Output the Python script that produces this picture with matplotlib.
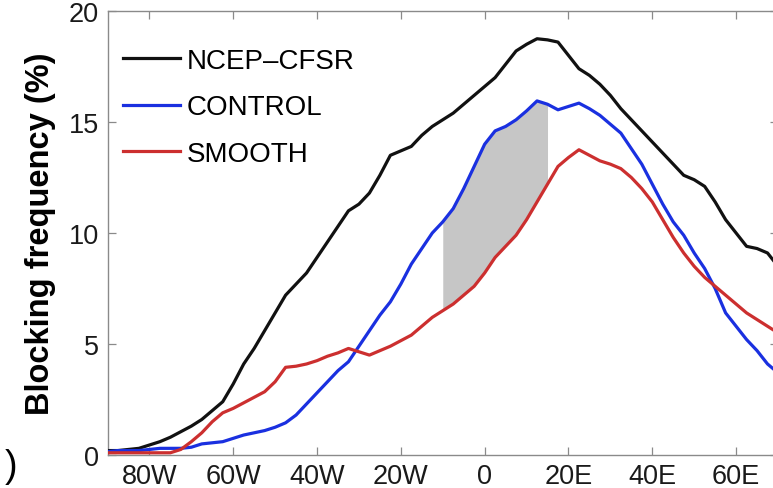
import numpy as np
import matplotlib
matplotlib.use("Agg")
import matplotlib.pyplot as plt

plt.rcParams['font.family'] = ['Liberation Sans', 'DejaVu Sans']

lon = np.arange(-90, 70.1, 2.5)

ncep = [0.2, 0.2, 0.25, 0.3, 0.45, 0.6, 0.8, 1.05, 1.3, 1.6, 2.0, 2.4, 3.2, 4.1,
        4.8, 5.6, 6.4, 7.2, 7.7, 8.2, 8.9, 9.6, 10.3, 11.0, 11.3, 11.8, 12.6, 13.5,
        13.7, 13.9, 14.4, 14.8, 15.1, 15.4, 15.8, 16.2, 16.6, 17.0, 17.6, 18.2, 18.5,
        18.75, 18.7, 18.6, 18.0, 17.4, 17.1, 16.7, 16.2, 15.6, 15.1, 14.6, 14.1, 13.6,
        13.1, 12.6, 12.4, 12.1, 11.4, 10.6, 10.0, 9.4, 9.3, 9.1, 8.5]

control = [0.15, 0.2, 0.2, 0.2, 0.25, 0.3, 0.3, 0.3, 0.35, 0.5, 0.55, 0.6, 0.75, 0.9,
           1.0, 1.1, 1.25, 1.45, 1.8, 2.3, 2.8, 3.3, 3.8, 4.2, 4.9, 5.6, 6.3, 6.9,
           7.7, 8.6, 9.3, 10.0, 10.5, 11.1, 12.0, 13.0, 14.0, 14.6, 14.8, 15.1, 15.5,
           15.95, 15.8, 15.55, 15.7, 15.85, 15.6, 15.3, 14.9, 14.5, 13.8, 13.1, 12.2, 11.3,
           10.5, 9.9, 9.1, 8.4, 7.5, 6.4, 5.8, 5.2, 4.7, 4.1, 3.7]

smooth = [0.1, 0.1, 0.1, 0.1, 0.1, 0.1, 0.1, 0.25, 0.6, 1.0, 1.5, 1.9, 2.1, 2.35,
          2.6, 2.85, 3.3, 3.95, 4.0, 4.1, 4.25, 4.45, 4.6, 4.8, 4.65, 4.5, 4.7, 4.9,
          5.15, 5.4, 5.8, 6.2, 6.5, 6.8, 7.2, 7.6, 8.2, 8.9, 9.4, 9.9, 10.6,
          11.4, 12.2, 13.0, 13.4, 13.75, 13.5, 13.25, 13.1, 12.9, 12.5, 12.0, 11.4, 10.6,
          9.8, 9.1, 8.5, 8.0, 7.6, 7.2, 6.8, 6.4, 6.1, 5.8, 5.5]

shade_range = (-10, 15)

xticks = [-80, -60, -40, -20, 0, 20, 40, 60]
xticklabels = ['80W', '60W', '40W', '20W', '0', '20E', '40E', '60E']
yticks = [0, 5, 10, 15, 20]

W, H = 773, 489
fig = plt.figure(figsize=(W / 100, H / 100), dpi=100)
left, right, bottom, top = 107.5, 778, 456, 12
ax = fig.add_axes([left / W, 1 - bottom / H, (right - left) / W, (bottom - top) / H])

lon_a = np.array(lon)
c = np.array(control)
s = np.array(smooth)
mask = (lon_a >= shade_range[0]) & (lon_a <= shade_range[1])
ax.fill_between(lon_a, s, c, where=mask, color='#c6c6c6', linewidth=0, zorder=1)

lw = 2.3
ax.plot(lon, ncep, color='#111111', lw=lw, label='NCEP\u2013CFSR', zorder=3)
ax.plot(lon, control, color='#1a30e0', lw=lw, label='CONTROL', zorder=3)
ax.plot(lon, smooth, color='#cc2f2f', lw=lw, label='SMOOTH', zorder=3)

ax.set_xlim(-90, 70)
ax.set_ylim(0, 20)
ax.set_xticks(xticks)
ax.set_xticklabels(xticklabels)
ax.set_yticks(yticks)

for sp in ax.spines.values():
    sp.set_color('#8a8a8a')
    sp.set_linewidth(1.0)

ax.tick_params(direction='in', length=6, width=0.9, color='#8a8a8a',
               top=True, right=True, labelsize=19.5, labelcolor='#1a1a1a', pad=6)

ax.set_ylabel('Blocking frequency (%)', fontsize=23.5, fontweight='bold', labelpad=9)

leg = ax.legend(loc='upper left', bbox_to_anchor=(123 / W, 1 - 49 / H),
                bbox_transform=fig.transFigure, frameon=False, fontsize=20,
                handlelength=2.05, handletextpad=0.25, labelspacing=0.73,
                borderpad=0, borderaxespad=0)

fig.text(5 / W, 1 - 467 / H, ')', fontsize=27, va='center', ha='left')

fig.savefig('out.png', dpi=100)
